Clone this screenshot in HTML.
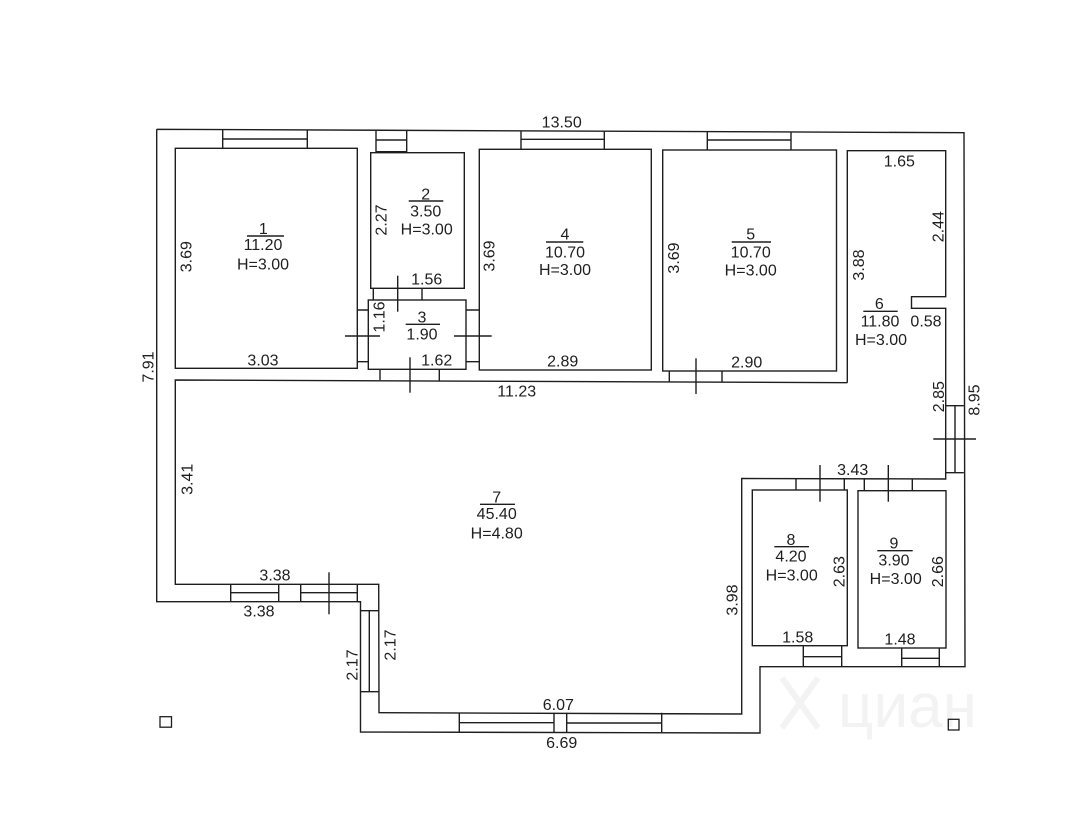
<!DOCTYPE html>
<html>
<head>
<meta charset="utf-8">
<style>
html,body{margin:0;padding:0;background:#fff;}
svg{display:block;}
text{font-family:"Liberation Sans",Arial,sans-serif;font-size:16px;fill:#1e1e1e;}
</style>
</head>
<body>
<svg width="1084" height="832" viewBox="0 0 1084 832" xmlns="http://www.w3.org/2000/svg">
<rect width="1084" height="832" fill="#fff"/>
<!-- watermark -->
<path d="M782,678 L818,728 M818,678 L782,728" stroke="#f3f3f3" stroke-width="6" fill="none"/>
<text x="838" y="727" style="font-size:62px;fill:#f3f3f3;">циан</text>

<g fill="none" stroke="#1e1e1e" stroke-width="1.4">
  <!-- outer contour -->
  <polyline points="156.7,129.3 964,132.7 965,666.7 760,666.7 760,733 360.5,732 360.5,601.7 156.7,601.7 156.7,129.3"/>
  <!-- room 1 -->
  <rect x="175.3" y="148.3" width="182" height="220"/>
  <!-- room 2 -->
  <rect x="370.7" y="152.7" width="93.6" height="135.6"/>
  <!-- room 3 -->
  <rect x="368.3" y="300" width="97.7" height="69.3"/>
  <!-- room 4 -->
  <rect x="479.3" y="149.3" width="172" height="220.7"/>
  <!-- room 5 -->
  <rect x="662.7" y="150" width="173.8" height="221"/>
  <!-- room 6 + 7 contour -->
  <polyline points="847.3,382.7 847.3,150.7 945.7,150.7 945.7,296.7 911.5,296.7 911.5,308.3 945.7,308.3 945.7,479 741.7,478.5 741.7,714 379,712.7 378.7,584.3 175.3,584.3 175.3,380 847.3,382.7"/>
  <!-- room 8 -->
  <rect x="752.3" y="490" width="95" height="155.7"/>
  <!-- room 9 -->
  <rect x="858" y="490.7" width="88" height="157.3"/>

  <!-- top windows -->
  <path d="M222.7,129.5 V148.3 M307.3,130 V148.3 M222.7,139 H307.3"/>
  <path d="M376,129.8 V152.7 M406.7,130 V152.7 M376,140 H406.7 M376,151.7 H406.7"/>
  <path d="M521,130.5 V149.3 M604.3,130.8 V149.3 M521,139.3 H604.3"/>
  <path d="M707.3,131.3 V150 M791,131.5 V150 M707.3,140 H791"/>

  <!-- right wall window -->
  <path d="M945.7,405.7 H963.8 M945.7,472.7 H963.8 M955,405.7 V472.7"/>
  <path d="M933.3,439 H976"/>

  <!-- bottom windows rooms 8/9 -->
  <path d="M803.3,645.7 V666.7 M841.7,645.7 V666.7 M803.3,656.7 H841.7"/>
  <path d="M901.7,648 V666.7 M939.3,648 V666.7 M901.7,658.3 H939.3"/>

  <!-- bottom windows room 7 -->
  <path d="M459.3,712.7 V732 M554,712.7 V732 M566.7,712.7 V732 M661.7,712.7 V732 M459.3,722.7 H554 M566.7,723 H661.7"/>

  <!-- SW windows room 7 -->
  <path d="M230.7,584.3 V601.7 M278.7,584.3 V601.7 M300.7,584.3 V601.7 M357.3,584.3 V601.7 M230.7,592.7 H278.7 M300.7,592.7 H357.3"/>
  <path d="M329,572.3 V614.3"/>
  <!-- corner box -->
  <path d="M357.3,601.7 H360.5 M360.5,610.7 H378.7"/>
  <!-- vertical window -->
  <path d="M360.5,691.7 H378.7 M369.3,610.7 V691.7"/>

  <!-- doors / passages -->
  <path d="M373.3,288.3 V300 M422,288.3 V300"/>
  <path d="M397.7,275.7 V311.7"/>
  <path d="M357.3,310 H368.3 M357.3,361.7 H368.3"/>
  <path d="M345,336 H380"/>
  <path d="M466,310 H479.3 M466,361.7 H479.3"/>
  <path d="M454,336 H491.7"/>
  <path d="M380,369.3 V380 M439.3,369.3 V380.8"/>
  <path d="M410,357.3 V392.7"/>
  <path d="M669.3,370.7 V381.7 M722,370.7 V381.9"/>
  <path d="M696,358.3 V394"/>
  <path d="M796,478.3 V490 M844.3,478.3 V490"/>
  <path d="M820,465 V501.7"/>
  <path d="M864.3,478.5 V490.7 M912.3,478.5 V490.7"/>
  <path d="M888.3,465 V501.7"/>

  <!-- fraction lines -->
  <path d="M247,236 H284 M408.7,201 H443.3 M405.7,324.3 H440 M546,242 H583.3 M731.7,242 H771 M863.3,311.3 H897.7 M480,504.3 H515 M774.3,546.7 H809 M877.3,550.7 H912.7"/>

  <!-- small squares -->
  <rect x="160" y="716.7" width="11.5" height="10.5" stroke-width="1.3"/>
  <rect x="948.3" y="719.3" width="10.7" height="10.7" stroke-width="1.3"/>
</g>

<g text-anchor="middle">
  <text x="561.7" y="127.4">13.50</text>

  <text x="263.3" y="234">1</text>
  <text x="263" y="250">11.20</text>
  <text x="263" y="269.5">H=3.00</text>
  <text x="263" y="365.7">3.03</text>

  <text x="425.7" y="199.7">2</text>
  <text x="425.7" y="216.5">3.50</text>
  <text x="426.7" y="234.7">H=3.00</text>
  <text x="426.7" y="284.7">1.56</text>

  <text x="422" y="322.7">3</text>
  <text x="422" y="339.7">1.90</text>
  <text x="436.7" y="365.7">1.62</text>

  <text x="565" y="239.7">4</text>
  <text x="565" y="257.4">10.70</text>
  <text x="565" y="275">H=3.00</text>
  <text x="562.7" y="366.4">2.89</text>

  <text x="750.7" y="239.7">5</text>
  <text x="750.7" y="257.7">10.70</text>
  <text x="750.7" y="275.7">H=3.00</text>
  <text x="746.7" y="367.4">2.90</text>

  <text x="516.7" y="396.4">11.23</text>

  <text x="899.3" y="166.4">1.65</text>
  <text x="879.3" y="309">6</text>
  <text x="880" y="326.4">11.80</text>
  <text x="926" y="326.4">0.58</text>
  <text x="881" y="345">H=3.00</text>

  <text x="852.7" y="475.2">3.43</text>

  <text x="496.7" y="502.4">7</text>
  <text x="496.7" y="519">45.40</text>
  <text x="496.7" y="538.4">H=4.80</text>

  <text x="275" y="580.7">3.38</text>
  <text x="259" y="616.4">3.38</text>

  <text x="558.3" y="710">6.07</text>
  <text x="561.7" y="748">6.69</text>

  <text x="791" y="545">8</text>
  <text x="791" y="561.7">4.20</text>
  <text x="791.7" y="580.7">H=3.00</text>
  <text x="797.7" y="642.4">1.58</text>

  <text x="894" y="548.4">9</text>
  <text x="894" y="565.7">3.90</text>
  <text x="895.7" y="584">H=3.00</text>
  <text x="900" y="644.7">1.48</text>

  <!-- rotated labels -->
  <text transform="translate(148,367) rotate(-90)" x="0" y="5.7">7.91</text>
  <text transform="translate(185.7,256.7) rotate(-90)" x="0" y="5.7">3.69</text>
  <text transform="translate(380.7,220) rotate(-90)" x="0" y="5.7">2.27</text>
  <text transform="translate(379,317) rotate(-90)" x="0" y="5.7">1.16</text>
  <text transform="translate(489,256) rotate(-90)" x="0" y="5.7">3.69</text>
  <text transform="translate(673.3,258) rotate(-90)" x="0" y="5.7">3.69</text>
  <text transform="translate(858.3,265) rotate(-90)" x="0" y="5.7">3.88</text>
  <text transform="translate(937.7,226.7) rotate(-90)" x="0" y="5.7">2.44</text>
  <text transform="translate(938.3,396.7) rotate(-90)" x="0" y="5.7">2.85</text>
  <text transform="translate(974,400) rotate(-90)" x="0" y="5.7">8.95</text>
  <text transform="translate(186.7,479.3) rotate(-90)" x="0" y="5.7">3.41</text>
  <text transform="translate(390,645) rotate(-90)" x="0" y="5.7">2.17</text>
  <text transform="translate(351.7,665) rotate(-90)" x="0" y="5.7">2.17</text>
  <text transform="translate(731.7,600) rotate(-90)" x="0" y="5.7">3.98</text>
  <text transform="translate(839,571.7) rotate(-90)" x="0" y="5.7">2.63</text>
  <text transform="translate(937.3,571.7) rotate(-90)" x="0" y="5.7">2.66</text>
</g>
</svg>
</body>
</html>
